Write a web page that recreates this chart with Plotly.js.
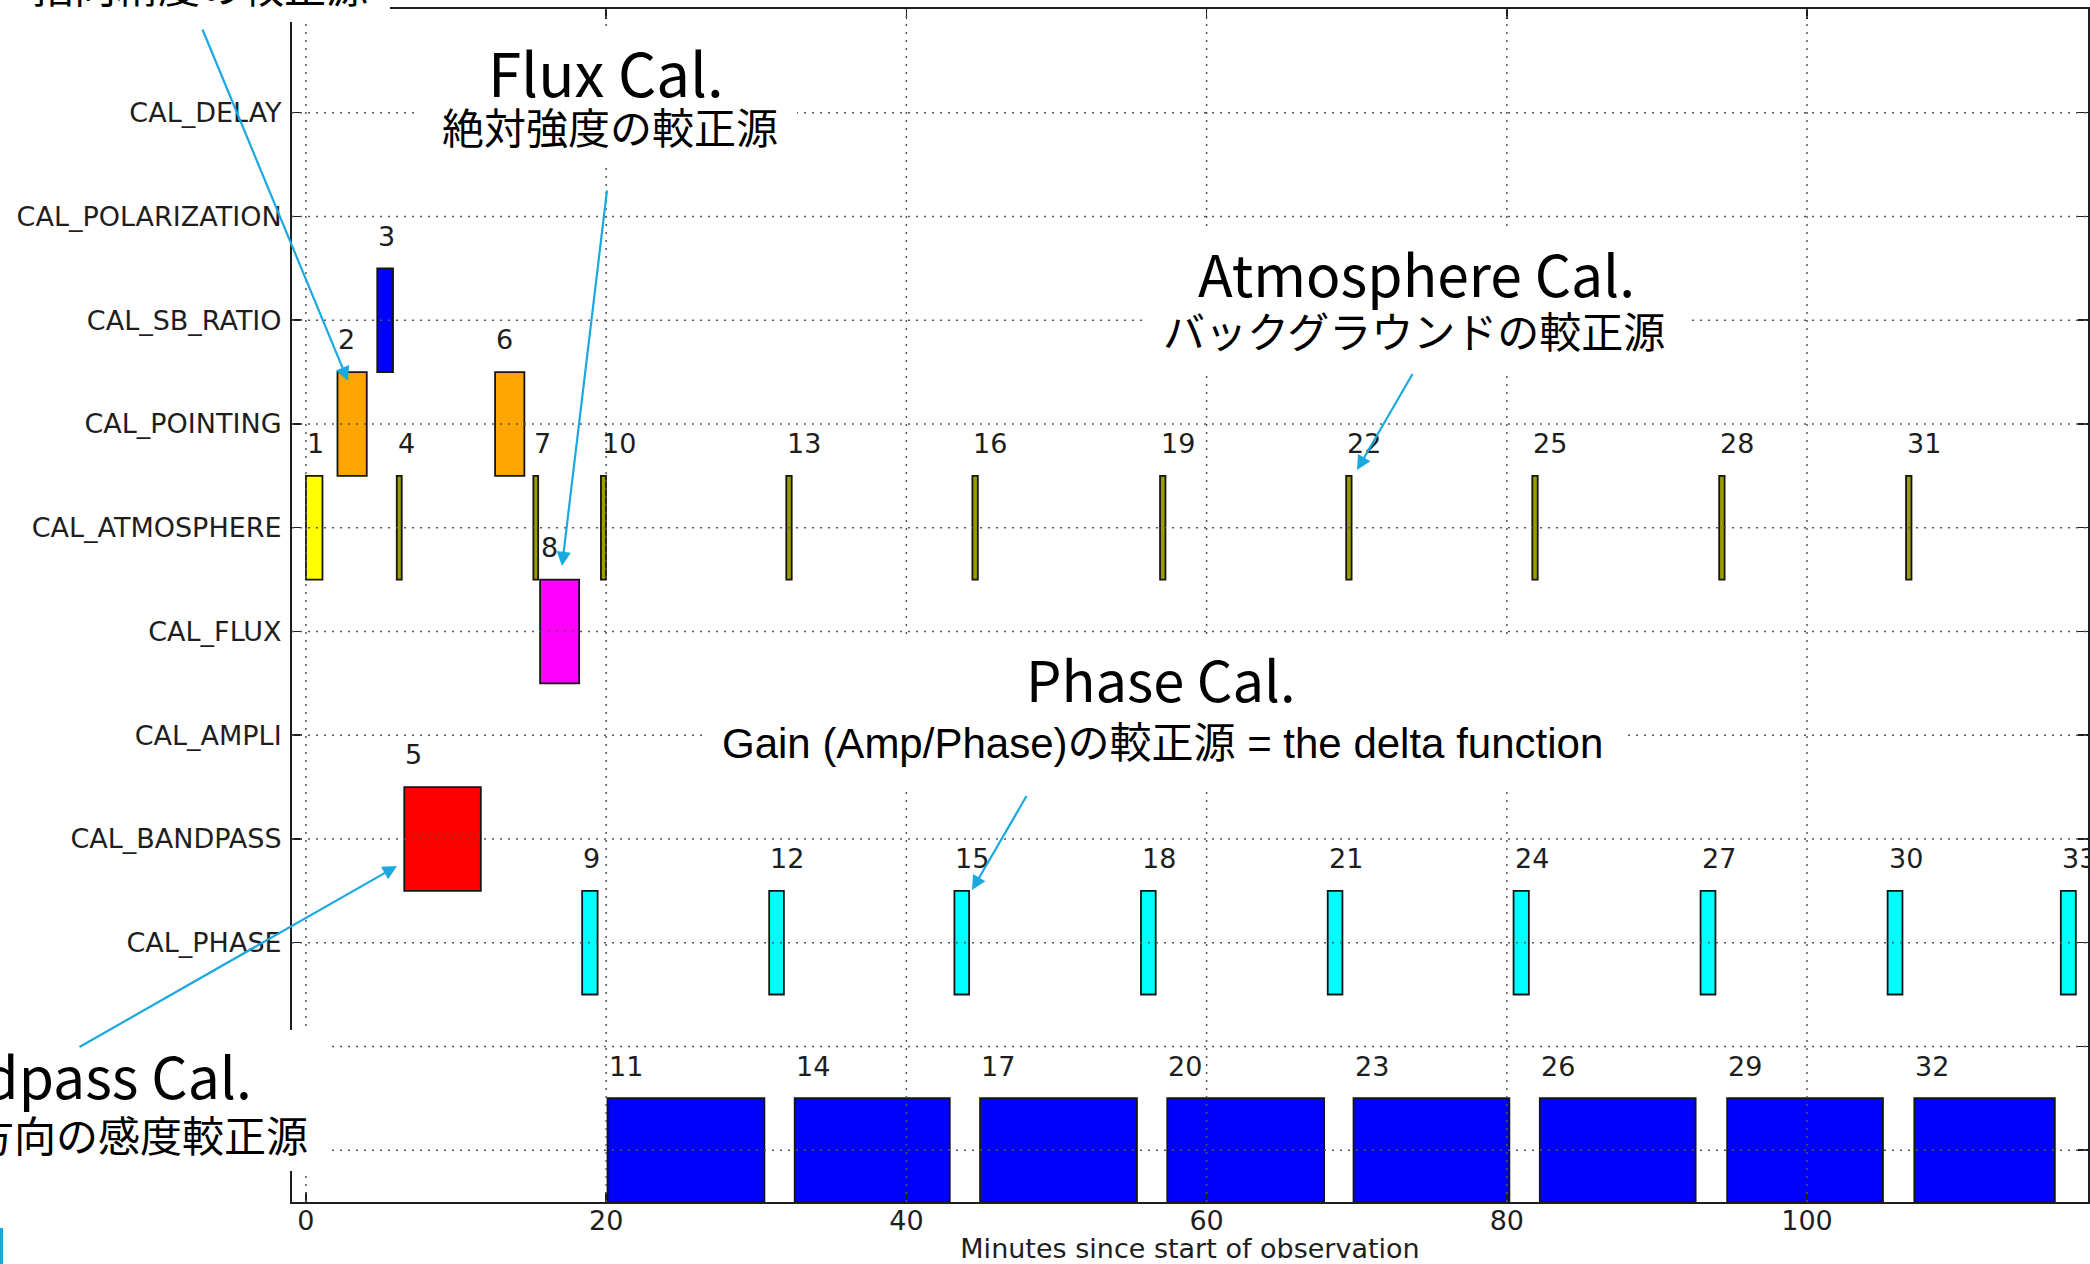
<!DOCTYPE html>
<html>
<head>
<meta charset="utf-8">
<script src="https://cdn.plot.ly/plotly-3.0.1.min.js"></script>
<style>
  html, body { margin: 0; padding: 0; background: #fff; overflow: hidden; }
  #chart { width: 2090px; height: 1264px; }
</style>
</head>
<body>
<div id="chart"></div>
<script>
// Row labels of the timeline, listed from the bottom row upwards
const rowLabels = ['', '', 'CAL_PHASE', 'CAL_BANDPASS', 'CAL_AMPLI', 'CAL_FLUX',
  'CAL_ATMOSPHERE', 'CAL_POINTING', 'CAL_SB_RATIO', 'CAL_POLARIZATION', 'CAL_DELAY'];
const xTicks = [0, 20, 40, 60, 80, 100];

// Scans of each intent: scan number, start (minutes), duration (minutes)
const atmScans = [1, 4, 7, 10, 13, 16, 19, 22, 25, 28, 31];
const atmStart = [0.0, 6.05, 15.15, 19.65, 32.0, 44.4, 56.9, 69.3, 81.7, 94.15, 106.6];
const atmDur = [1.1, 0.33, 0.32, 0.34, 0.36, 0.36, 0.36, 0.36, 0.36, 0.36, 0.36];

const pointingScans = [2, 6];
const pointingStart = [2.1, 12.6];
const pointingDur = [1.95, 1.95];

const sbRatioScans = [3];
const sbRatioStart = [4.75];
const sbRatioDur = [1.05];

const bandpassScans = [5];
const bandpassStart = [6.55];
const bandpassDur = [5.1];

const fluxScans = [8];
const fluxStart = [15.6];
const fluxDur = [2.6];

const phaseScans = [9, 12, 15, 18, 21, 24, 27, 30, 33];
const phaseStart = [18.4, 30.86, 43.2, 55.63, 68.07, 80.45, 92.91, 105.37, 116.91];
const phaseDur = [1.03, 0.98, 0.98, 0.98, 0.98, 1.02, 0.99, 0.99, 1.0];

const targetScans = [11, 14, 17, 20, 23, 26, 29, 32];
const targetStart = [20.09, 32.56, 44.91, 57.38, 69.79, 82.2, 94.68, 107.15];
const targetDur = [10.45, 10.33, 10.45, 10.45, 10.38, 10.38, 10.38, 9.36];

// Figure geometry (pixels)
const W = 2090, H = 1264;
const M = { l: 292, r: 2, t: 9, b: 62 };
const plotW = W - M.l - M.r, plotH = H - M.t - M.b;
const px = x => (x - M.l) / plotW;          // pixel -> paper x
const py = y => 1 - (y - M.t) / plotH;      // pixel -> paper y

const groups = [
  { scans: atmScans, start: atmStart, dur: atmDur, row: 6, color: 'yellow' },
  { scans: pointingScans, start: pointingStart, dur: pointingDur, row: 7, color: 'orange' },
  { scans: sbRatioScans, start: sbRatioStart, dur: sbRatioDur, row: 8, color: '#0000ff' },
  { scans: bandpassScans, start: bandpassStart, dur: bandpassDur, row: 3, color: '#ff0000' },
  { scans: fluxScans, start: fluxStart, dur: fluxDur, row: 5, color: '#ff00ff' },
  { scans: phaseScans, start: phaseStart, dur: phaseDur, row: 2, color: '#00ffff' },
  { scans: targetScans, start: targetStart, dur: targetDur, row: 0, color: '#0000ff' }
];

const tickFont = { family: 'DejaVu Sans', size: 27, color: '#1e1e1e' };
const ink = '#1e1e1e';
const arrowBlue = '#1ba8e0';

// Bars: very thin slivers render darker, as in a small raster
const traces = groups.map(g => ({
  type: 'bar',
  orientation: 'h',
  y: g.dur.map(() => g.row),
  x: g.dur,
  base: g.start,
  width: 1,
  marker: {
    color: g.dur.map(d => (g.color === 'yellow' && d < 0.5) ? '#9c9c00' : g.color),
    line: { color: '#151515', width: 1.8 }
  },
  hoverinfo: 'skip',
  showlegend: false
}));

// Scan numbers above each bar
const annotations = [];
groups.forEach(g => {
  g.scans.forEach((s, i) => {
    annotations.push({
      x: g.start[i], y: g.row + 0.81, xref: 'x', yref: 'y',
      text: String(s), showarrow: false, xanchor: 'left', yanchor: 'middle',
      borderpad: 0, font: tickFont
    });
  });
});

// Dotted grid drawn over the bars
const gridLine = { color: '#555555', width: 1.5, dash: '2px,6px' };
const shapes = [];
rowLabels.forEach((_, r) => {
  shapes.push({ type: 'line', layer: 'above', xref: 'paper', yref: 'y',
    x0: 0, x1: 1, y0: r, y1: r, line: gridLine });
});
xTicks.forEach(v => {
  shapes.push({ type: 'line', layer: 'above', xref: 'x', yref: 'paper',
    x0: v, x1: v, y0: 0, y1: 1, line: gridLine });
});

// White callout panels laid over the chart
const panels = [
  [-20, -20, 390, 22],
  [420, 32, 797, 168],
  [1142, 228, 1692, 370],
  [707, 636, 1628, 787],
  [-20, 1030, 326, 1171]
];
panels.forEach(([x0, y0, x1, y1]) => {
  shapes.push({ type: 'rect', layer: 'above', xref: 'paper', yref: 'paper',
    x0: px(x0), x1: px(x1), y0: py(y1), y1: py(y0),
    fillcolor: '#ffffff', line: { width: 0 } });
});
shapes.push({ type: 'line', layer: 'above', xref: 'paper', yref: 'paper',
  x0: px(1.5), x1: px(1.5), y0: py(1264), y1: py(1228),
  line: { color: arrowBlue, width: 3 } });

// Callout texts: [text, x, y, anchor, font size, family]
const cjk = 'Noto Sans CJK JP';
const callouts = [
  ['指向精度の較正源', 200, -15, 'center', 42, cjk],
  ['Flux Cal.', 606, 71, 'center', 60, cjk],
  ['絶対強度の較正源', 610, 126, 'center', 42, cjk],
  ['Atmosphere Cal.', 1416, 272, 'center', 57, cjk],
  ['バックグラウンドの較正源', 1414, 329, 'center', 42, cjk],
  ['Phase Cal.', 1160, 677, 'center', 56, cjk],
  ['Gain (Amp/Phase)の較正源 = the delta function', 1162, 743, 'center', 42,
    'Liberation Sans, Noto Sans CJK JP'],
  ['Bandpass Cal.', 253, 1074, 'right', 57, cjk],
  ['周波数方向の感度較正源', 309, 1133, 'right', 42, cjk]
];
callouts.forEach(([text, x, y, anchor, size, family]) => {
  annotations.push({ x: px(x), y: py(y), xref: 'paper', yref: 'paper', text,
    showarrow: false, xanchor: anchor, yanchor: 'middle', borderpad: 0,
    font: { family, size, color: '#000' } });
});

// Callout arrows: [tail x, tail y, head x, head y]
const arrows = [
  [199, 21, 348, 381],
  [608, 182, 562, 566],
  [1416, 368, 1357, 470],
  [1030, 790, 972, 890],
  [76, 1049, 397, 866]
];
arrows.forEach(([tx, ty, hx, hy]) => {
  annotations.push({ x: px(hx), y: py(hy), xref: 'paper', yref: 'paper', text: ' ',
    showarrow: true, axref: 'pixel', ayref: 'pixel', ax: tx - hx, ay: ty - hy,
    arrowhead: 2, arrowsize: 1.3, arrowwidth: 2.2, arrowcolor: arrowBlue, standoff: 0 });
});

const axisCommon = {
  showline: true, linecolor: ink, linewidth: 2, mirror: 'allticks',
  ticks: 'inside', ticklen: 10, tickwidth: 1.5, tickcolor: ink,
  showgrid: false, zeroline: false, tickfont: tickFont, fixedrange: true
};

const layout = {
  width: W, height: H,
  margin: M,
  paper_bgcolor: '#ffffff', plot_bgcolor: '#ffffff',
  barmode: 'overlay',
  font: { family: 'DejaVu Sans', color: ink },
  xaxis: Object.assign({}, axisCommon, {
    range: [-0.93, 118.72], tickmode: 'array', tickvals: xTicks,
    ticktext: xTicks.map(String), ticklabelstandoff: -6,
    title: { text: 'Minutes since start of observation', font: tickFont, standoff: 12 },
    automargin: false
  }),
  yaxis: Object.assign({}, axisCommon, {
    range: [-0.5, 11], tickmode: 'array', tickvals: rowLabels.map((_, i) => i),
    ticktext: rowLabels, ticklabelstandoff: 3, automargin: false
  }),
  shapes, annotations
};

Plotly.newPlot('chart', traces, layout, { displayModeBar: false, staticPlot: true });
</script>
</body>
</html>
